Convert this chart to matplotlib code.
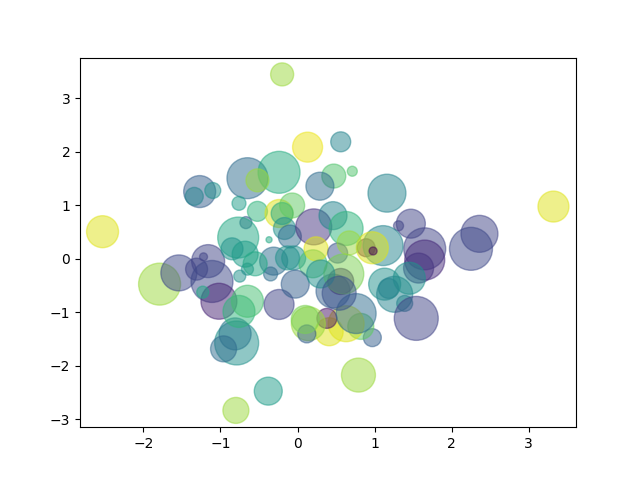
import matplotlib
matplotlib.use('Agg')
import matplotlib.pyplot as plt
import numpy as np

# Bubble positions.
x = [-0.20, 0.13, 0.56, 0.47, 0.71, 0.29, 1.16, 3.32, -2.53, -1.79,
     -1.54, -1.16, -1.22, -1.31, -1.11, -1.02, -1.23, -1.27, -1.10, -1.34,
     -0.65, -0.24, -0.52, -0.76, -0.52, -0.24, -0.20, -0.07, -0.67, -0.77,
     -0.17, -0.10, -0.37, 0.21, 0.46, 0.63, 0.89, 1.47, 1.31, 2.36,
     2.25, 1.65, 1.65, 1.57, 1.11, 0.97, 0.98, 1.13, 1.26, 1.45,
     1.18, 1.39, 1.54, 0.97, 0.82, 0.63, 0.41, 0.38, 0.79, 0.76,
     -0.79, -0.81, -0.96, -0.38, -0.80, -0.76, -0.65, -0.24, 0.14, 0.12,
     -0.85, -0.68, -0.65, -0.75, -0.31, -0.35, -0.55, -0.05, 0.20, 0.24,
     -0.03, 0.46, 0.56, 0.52, 0.60, 0.30, 0.10, -0.13, 0.54, 0.67]
y = [3.45, 2.09, 2.19, 1.55, 1.64, 1.36, 1.23, 0.98, 0.51, -0.47,
     -0.26, -0.04, 0.04, -0.19, -0.42, -0.79, -0.62, 1.26, 1.28, 1.17,
     1.51, 1.62, 1.47, 1.04, 0.89, 0.85, 0.85, 1.00, 0.68, 0.40,
     0.57, 0.42, 0.36, 0.60, 0.81, 0.57, 0.21, 0.66, 0.62, 0.47,
     0.19, 0.19, -0.02, -0.17, 0.25, 0.21, 0.15, -0.47, -0.66, -0.36,
     -0.55, -0.83, -1.11, -1.47, -1.26, -1.21, -1.36, -1.11, -2.17, -1.02,
     -1.57, -1.40, -1.68, -2.47, -2.83, -0.98, -0.79, -0.85, -1.21, -1.40,
     0.19, 0.09, -0.19, -0.32, -0.04, -0.28, -0.09, 0.02, -0.09, 0.19,
     -0.47, -0.60, -0.42, 0.11, -0.28, -0.28, -1.13, 0.02, -0.64, 0.30]
# marker areas (points^2)
area = [275, 466, 207, 298, 52, 406, 747, 497, 530, 913,
        671, 564, 33, 250, 913, 671, 75, 530, 132, 168,
        870, 913, 274, 101, 207, 406, 250, 323, 75, 870,
        250, 274, 19, 671, 406, 598, 168, 435, 52, 708,
        957, 913, 828, 466, 828, 530, 33, 530, 671, 530,
        207, 132, 1002, 168, 350, 671, 406, 207, 598, 828,
        1002, 530, 350, 406, 350, 530, 530, 466, 598, 168,
        250, 350, 75, 75, 406, 101, 298, 298, 406, 298,
        406, 598, 350, 207, 828, 406, 406, 298, 598, 298]
# colour values (viridis)
colors = [0.85, 0.97, 0.45, 0.72, 0.72, 0.35, 0.45, 0.95, 0.95, 0.85,
          0.22, 0.20, 0.20, 0.20, 0.22, 0.10, 0.60, 0.30, 0.50, 0.45,
          0.35, 0.62, 0.85, 0.55, 0.65, 0.95, 0.60, 0.75, 0.30, 0.60,
          0.50, 0.35, 0.60, 0.15, 0.45, 0.65, 0.05, 0.20, 0.20, 0.20,
          0.22, 0.20, 0.12, 0.15, 0.45, 0.95, 0.00, 0.50, 0.45, 0.50,
          0.45, 0.45, 0.20, 0.30, 0.75, 0.95, 0.95, 0.05, 0.85, 0.35,
          0.50, 0.40, 0.35, 0.55, 0.85, 0.65, 0.70, 0.20, 0.85, 0.30,
          0.50, 0.55, 0.50, 0.50, 0.35, 0.35, 0.60, 0.50, 0.70, 0.95,
          0.30, 0.30, 0.08, 0.25, 0.80, 0.50, 0.80, 0.50, 0.25, 0.85]

fig, ax = plt.subplots(figsize=(6.4, 4.8), dpi=100)
ax.scatter(x, y, s=area, c=colors, cmap='viridis', vmin=0, vmax=1, alpha=0.5)

fig.savefig('out.png')
